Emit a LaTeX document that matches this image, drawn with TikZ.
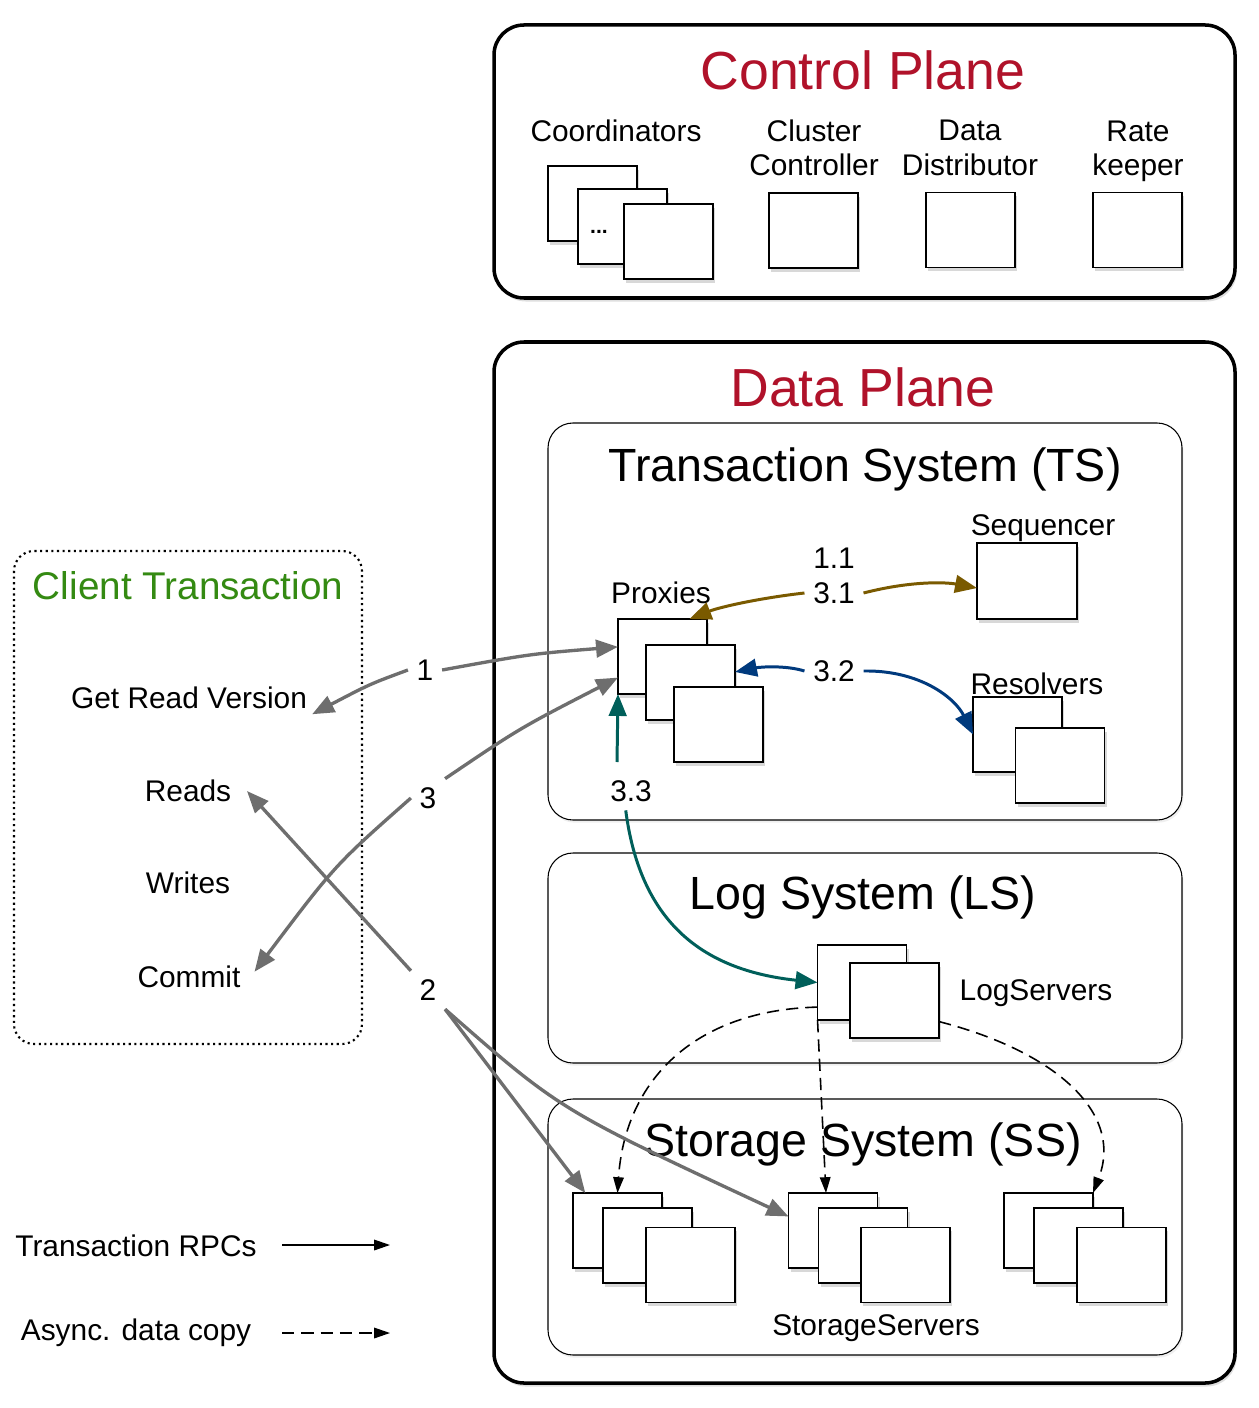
\documentclass[tikz,border=0pt]{standalone}
\usepackage{fontspec}
\setmainfont{Liberation Sans}
\usetikzlibrary{arrows.meta,shadows}

\definecolor{planered}{RGB}{176,18,42}
\definecolor{clientgreen}{RGB}{52,138,18}
\definecolor{seqbrown}{RGB}{122,90,0}
\definecolor{resblue}{RGB}{0,58,125}
\definecolor{logteal}{RGB}{0,95,90}
\definecolor{rpcgray}{RGB}{110,110,110}

\begin{document}
\begin{tikzpicture}[x=0.02cm, y=-0.02cm]
\tikzset{ >={Triangle[length=12.5pt,width=10pt]}, inner sep=0pt, outer sep=0pt,
  srv/.style={draw, fill=white, line width=1.1pt, minimum width=1.78cm, minimum height=1.5cm,
    drop shadow={opacity=0.3, shadow xshift=1.2pt, shadow yshift=-2pt}},
  plane/.style={draw, fill=white, line width=2pt, rounded corners=0.6cm,
    drop shadow={opacity=0.25, shadow xshift=1pt, shadow yshift=-2pt}},
  subsys/.style={draw, fill=white, line width=0.6pt, rounded corners=0.5cm,
    drop shadow={opacity=0.12, shadow xshift=0.8pt, shadow yshift=-1.5pt}},
  txt/.style={font=\fontsize{17}{19.5}\selectfont, align=center, inner sep=3pt},
  num/.style={txt, inner sep=5pt},
  ptitle/.style={font=\fontsize{30.5}{34}\selectfont, text=planered},
  stitle/.style={font=\fontsize{26.5}{30}\selectfont},
  rpc/.style={draw=rpcgray, line width=1.9pt, ->},
  seqarr/.style={draw=seqbrown, line width=1.7pt, ->},
  resarr/.style={draw=resblue, line width=1.7pt, ->},
  logarr/.style={draw=logteal, line width=1.7pt, ->},
  copy/.style={draw, line width=0.9pt, dash pattern=on 7pt off 4pt, -{Triangle[length=9pt,width=6pt]}},
  legend/.style={draw, line width=0.8pt, -{Triangle[length=9pt,width=6pt]}},
}
\useasboundingbox (0,0) rectangle (1258,1408);
%\draw [lightgray, dashed](0,0) grid[step=50] (1258,1408);

% control plane
\path [plane] (494,25) rectangle (1235,298);
\node [ptitle] (CP) at (863,70) {Control Plane};

\node [txt] (COORD) at (616,131) {Coordinators};
\node [txt] (CCL) at (814,148) {Cluster\\Controller};
\node [txt] (DDL) at (970,148) {Data\\Distributor};
\node [txt] (RKL) at (1138,151) {Rate\\keeper};

\node [srv] (CO1) at (592.5,203.5) {};
\node [srv] (CO2) at (622.5,226.5) {};
\node [font=\fontsize{12}{12}\selectfont\bfseries] (DOTS) at (599,232) {...};
\node [srv] (CO3) at (668.5,241.5) {};
\node [srv] (CC) at (813.5,230.5) {};
\node [srv] (DD) at (970.5,230) {};
\node [srv] (RK) at (1137.5,230) {};

% data plane
\path [plane] (494,342) rectangle (1235,1383);
\node [ptitle] (DP) at (863,387) {Data Plane};

\path [subsys] (548,423) rectangle (1182,820);
\path [subsys] (548,853) rectangle (1182,1063);
\path [subsys] (548,1099) rectangle (1182,1355);

\node [stitle] (TS) at (865,469) {Transaction System (TS)};
\node [stitle] (LS) at (863,897) {Log System (LS)};
\node [stitle] (SS) at (863,1144) {Storage System (SS)};

\node [txt] (SEQL) at (1043,528) {Sequencer};
\node [txt] (PXL) at (661,593) {Proxies};
\node [txt] (RSL) at (1037,684) {Resolvers};
\node [txt] (LGL) at (1036,993) {LogServers};
\node [txt] (SSL) at (876,1328) {StorageServers};

\node [srv, minimum width=2cm, minimum height=1.52cm] (SEQ) at (1027,581) {};
\node [srv] (P1) at (662.5,656.5) {};
\node [srv] (P2) at (690.5,682.5) {};
\node [srv] (P3) at (718.5,724.5) {};
\node [srv] (R1) at (1017.5,734.5) {};
\node [srv] (R2) at (1060,765.5) {};
\node [srv] (L1) at (862,982.5) {};
\node [srv] (L2) at (894.5,1000.5) {};

\node [srv] (G1A) at (617.5,1230.5) {};
\node [srv] (G1B) at (647.5,1245.5) {};
\node [srv] (G1C) at (690.5,1265) {};
\node [srv] (G2A) at (833,1230.5) {};
\node [srv] (G2B) at (863,1245.5) {};
\node [srv] (G2C) at (905.5,1265) {};
\node [srv] (G3A) at (1048.5,1230.5) {};
\node [srv] (G3B) at (1078.5,1245.5) {};
\node [srv] (G3C) at (1121.5,1265) {};

\node [num] (N11) at (834,558) {1.1};
\node [num] (N31) at (834,593) {3.1};
\node [num] (N32) at (834,671) {3.2};
\node [num] (N33) at (631,791) {3.3};
\coordinate (C33) at (617,762);

\draw [seqarr] (N31.west) .. controls (760,598) and (720,607) .. ([xshift=-10pt]P1.north east);
\draw [seqarr] (N31.east) .. controls (910,581) and (945,582) .. ([yshift=-4pt]SEQ.west);
\draw [resarr] (N32.west) .. controls (785,665) and (760,667) .. ([yshift=6pt]P2.east);
\draw [resarr] (N32.east) .. controls (920,670) and (955,698) .. (R1.west);
\draw [logarr] (C33) -- (P1.south west);
\draw [logarr] ([xshift=-3pt]N33.south) .. controls (640,920) and (700,970) .. (L1.west);

% async copies
\draw [copy] ([yshift=-14pt]L1.west) .. controls (695,1010) and (625,1080) .. (G1A.north);
\draw [copy] (L1.south west) -- ([xshift=-4pt]G2A.north);
\draw [copy] ([yshift=-12pt]L2.east) .. controls (1050,1050) and (1125,1110) .. (G3A.north east);

% client
\draw [dotted, line width=1.2pt, rounded corners=0.4cm] (14,551) rectangle (362,1044);
\node [font=\fontsize{22}{26}\selectfont, text=clientgreen] (CT) at (188,586) {Client Transaction};
\node [txt] (GRV) at (189,698) {Get Read Version};
\node [txt] (READS) at (188,791) {Reads};
\node [txt] (WR) at (188,883) {Writes};
\node [txt] (COM) at (189,977) {Commit};

\node [num] (N1) at (425,670) {1};
\node [num] (N3) at (428,798) {3};
\node [num] (N2) at (428,990) {2};

\draw [rpc] (N1.east) .. controls (530,654) .. ([yshift=5.5pt]P1.west);
\draw [rpc] (N1.west) .. controls (370,684) .. (GRV.south east);
\draw [rpc] (N3.north east) .. controls (520,728) .. ([yshift=-12pt]P1.west);
\draw [rpc] (N3.west) .. controls (335,865) .. ([xshift=5pt,yshift=3pt]COM.east);
\draw [rpc] (N2.north west) -- ([xshift=6pt]READS.east);
\draw [rpc] (N2.south east) -- ([xshift=7pt]G1A.north west);
\draw [rpc] (N2.south east) .. controls (560,1110) .. ([yshift=8pt]G2A.west);

% legend
\node [txt] (RPCL) at (136,1246) {Transaction RPCs};
\node [txt] (ASYL) at (136,1333) {Async. data copy};
\coordinate (RPCa) at (282,1245);
\coordinate (RPCb) at (390,1245);
\coordinate (ASYa) at (282,1333);
\coordinate (ASYb) at (390,1333);
\draw [legend] (RPCa) -- (RPCb);
\draw [legend, dash pattern=on 7pt off 4pt] (ASYa) -- (ASYb);

\end{tikzpicture}
\end{document}
